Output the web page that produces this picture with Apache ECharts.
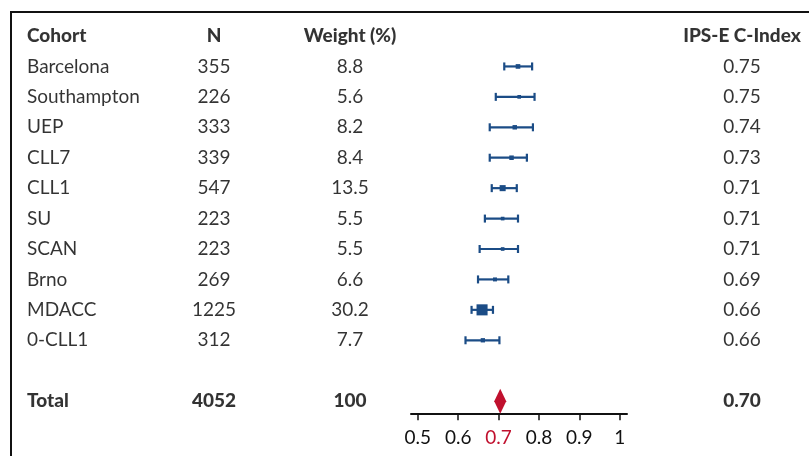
<!DOCTYPE html>
<html>
<head>
<meta charset="utf-8">
<script src="https://cdn.jsdelivr.net/npm/echarts@6/dist/echarts.min.js"></script>
<style>
html,body{margin:0;padding:0;background:#fff;}
#chart{width:809px;height:456px;}
</style>
</head>
<body>
<div id="chart"></div>
<script>
// ---- data ----
var cohorts = ['Barcelona','Southampton','UEP','CLL7','CLL1','SU','SCAN','Brno','MDACC','0-CLL1'];
var nValues = [355,226,333,339,547,223,223,269,1225,312];
var weights = [8.8,5.6,8.2,8.4,13.5,5.5,5.5,6.6,30.2,7.7];
var cIndex = ['0.75','0.75','0.74','0.73','0.71','0.71','0.71','0.69','0.66','0.66'];
var estimates = [0.748,0.751,0.740,0.732,0.710,0.710,0.710,0.691,0.659,0.661];
var ciLow = [0.714,0.693,0.678,0.678,0.683,0.666,0.653,0.649,0.633,0.618];
var ciHigh = [0.783,0.789,0.785,0.770,0.745,0.748,0.748,0.724,0.686,0.702];
var headers = ['Cohort','N','Weight (%)','IPS-E C-Index'];
var totalRow = ['Total','4052','100','0.70'];
var totalEstimate = 0.704;
var tickValues = [0.5,0.6,0.7,0.8,0.9,1];

// ---- layout (not data) ----
var FONT = 'Lato';
var BLUE = '#1b4c86';
var RED = '#c0102e';
var colX = [27, 214, 350, 742];
var TOTAL_ROW = cohorts.length + 2;

var textData = [];
headers.forEach(function(h, c){ textData.push({value:[colX[c], 0, h], bold:true, left:c===0}); });
cohorts.forEach(function(name, i){
  var row = i + 1;
  [name, String(nValues[i]), weights[i].toFixed(1), cIndex[i]].forEach(function(t, c){
    textData.push({value:[colX[c], row, t], bold:false, left:c===0});
  });
});
totalRow.forEach(function(t, c){ textData.push({value:[colX[c], TOTAL_ROW, t], bold:true, left:c===0}); });

var textSeriesData = textData.map(function(d){
  return {
    value: d.value,
    label: {
      show: true,
      position: 'inside',
      align: d.left ? 'left' : 'center',
      verticalAlign: 'middle',
      formatter: function(p){ return p.value[2]; },
      fontFamily: FONT,
      fontSize: 19,
      fontWeight: d.bold ? 900 : 'normal',
      color: '#000'
    }
  };
});

var chart = echarts.init(document.getElementById('chart'), null, {renderer:'canvas'});
var gridTop = 20.8, gridBottom = 42.7;
var option = {
  animation: false,
  backgroundColor: '#fff',
  grid: [
    {left: 411, width: 216, top: gridTop, bottom: gridBottom},
    {left: 0, right: 0, top: gridTop, bottom: gridBottom}
  ],
  xAxis: [
    {
      gridIndex: 0, type: 'value', min: 0.483, max: 1.018, position: 'bottom',
      axisLine: {show: true, onZero: false, lineStyle: {color: '#111', width: 2}},
      axisTick: {show: true, customValues: tickValues, length: 7, lineStyle: {color: '#111', width: 1.5}},
      axisLabel: {
        show: true, customValues: tickValues, margin: 15,
        fontFamily: FONT, fontSize: 19,
        formatter: function(v){ return String(Math.round(v*10)/10); },
        color: function(v){ return Math.abs(Number(v) - 0.7) < 1e-6 ? RED : '#111'; }
      },
      splitLine: {show: false}
    },
    {gridIndex: 1, type: 'value', min: 0, max: 809, show: false}
  ],
  yAxis: [
    {gridIndex: 0, type: 'value', inverse: true, min: -0.5, max: 12.4, show: false},
    {gridIndex: 1, type: 'value', inverse: true, min: -0.5, max: 12.4, show: false}
  ],
  graphic: [{
    type: 'rect', shape: {x: 11, y: 12, width: 900, height: 600},
    style: {fill: null, stroke: '#111', lineWidth: 2}, z: 100
  }],
  series: [
    {
      type: 'custom', xAxisIndex: 0, yAxisIndex: 0,
      data: cohorts.map(function(c, i){ return [ciLow[i], ciHigh[i], i + 1]; }),
      renderItem: function(params, api){
        var p1 = api.coord([api.value(0), api.value(2)]);
        var p2 = api.coord([api.value(1), api.value(2)]);
        var h = 4;
        var st = {stroke: BLUE, lineWidth: 2.2};
        return {type: 'group', children: [
          {type: 'line', shape: {x1: p1[0], y1: p1[1], x2: p2[0], y2: p2[1]}, style: st},
          {type: 'line', shape: {x1: p1[0], y1: p1[1]-h, x2: p1[0], y2: p1[1]+h}, style: st},
          {type: 'line', shape: {x1: p2[0], y1: p2[1]-h, x2: p2[0], y2: p2[1]+h}, style: st}
        ]};
      },
      z: 2
    },
    {
      type: 'scatter', xAxisIndex: 0, yAxisIndex: 0,
      symbol: 'rect',
      data: cohorts.map(function(c, i){ return [estimates[i], i + 1, weights[i]]; }),
      symbolSize: function(v){ return 2 + 0.3 * v[2]; },
      itemStyle: {color: BLUE, opacity: 1},
      z: 3
    },
    {
      type: 'scatter', xAxisIndex: 0, yAxisIndex: 0,
      symbol: 'diamond', symbolSize: [12, 25],
      data: [[totalEstimate, TOTAL_ROW]],
      itemStyle: {color: RED, opacity: 1},
      z: 3
    },
    {
      type: 'scatter', xAxisIndex: 1, yAxisIndex: 1,
      symbolSize: 0, silent: true,
      data: textSeriesData,
      z: 5
    }
  ]
};
chart.setOption(option);
</script>
</body>
</html>
